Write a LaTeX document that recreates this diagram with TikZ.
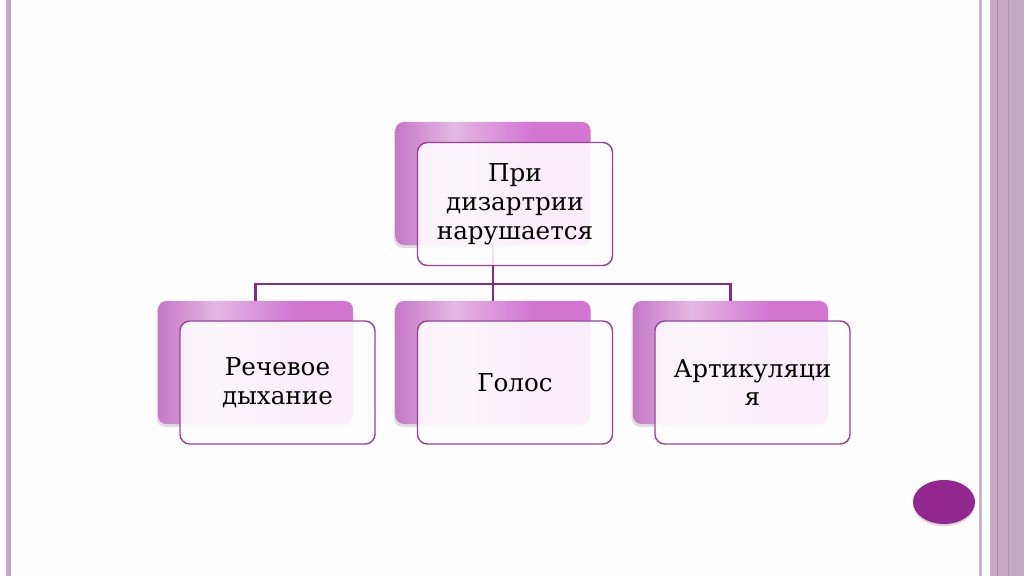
\documentclass[tikz,border=0pt]{standalone}
\usepackage{fontspec}
\setmainfont{DejaVu Serif}
\usepackage{xcolor}
\usepackage{tikz}
\usetikzlibrary{shapes,positioning,shadows}
\definecolor{edgepurple}{HTML}{852C85}
\definecolor{boxline}{HTML}{9C3F9B}
\definecolor{pinkA}{HTML}{C678C6}
\definecolor{pinkB}{HTML}{E3B8E3}
\definecolor{pinkC}{HTML}{D276D2}
\definecolor{bandcol}{HTML}{C4A8C4}
\definecolor{dotcol}{HTML}{92278F}
\pgfdeclarehorizontalshading{backshade}{100bp}{color(0bp)=(pinkA); color(25bp)=(pinkA); color(40bp)=(pinkB); color(60bp)=(pinkC); color(100bp)=(pinkC)}
\tikzset{backbox/.style={rectangle,rounded corners=6pt,minimum width=4.875cm,minimum height=3.075cm,shading=backshade,drop shadow={shadow xshift=-1pt,shadow yshift=-2pt,opacity=0.25}}}
\tikzset{frontbox/.style={rectangle,rounded corners=7pt,draw=boxline,line width=1pt,fill=white,fill opacity=0.88,text opacity=1,minimum width=4.875cm,minimum height=3.075cm,align=center,font=\fontsize{17.5}{20.5}\selectfont}}
\tikzset{conn/.style={draw=edgepurple,line width=1.5pt}}

\begin{document}
\begin{tikzpicture}[x=0.025cm,y=-0.025cm]
    \fill[white!99.5!black] (0,0) rectangle (1024,576);
    \useasboundingbox (0,0) rectangle (1024,576);
    \fill[bandcol] (6,0) rectangle (11,576);
    \fill[bandcol!85] (979,0) rectangle (982,576);
    \fill[bandcol] (990,0) rectangle (1024,576);
    \fill[edgepurple!60] (997,0) rectangle (998,576);
    \fill[bandcol!80!edgepurple] (1008,0) rectangle (1009,576);

    \node[backbox] (topb) at (493,183.5) {};
    \node[backbox] (leftb) at (255.5,362.5) {};
    \node[backbox] (midb) at (493,362.5) {};
    \node[backbox] (rightb) at (730.5,362.5) {};

    \coordinate (bus) at (493,284);
    \draw[conn] (topb.south) -- (bus);
    \draw[conn] (bus) -| (leftb.north);
    \draw[conn] (bus) -- (midb.north);
    \draw[conn] (bus) -| (rightb.north);

    \node[frontbox] (topf) at (515,204) {При\\дизартрии\\нарушается};
    \node[frontbox] (leftf) at (277.5,382.5) {Речевое\\дыхание};
    \node[frontbox] (midf) at (515,382.5) {Голос};
    \node[frontbox] (rightf) at (752.5,382.5) {Артикуляци\\я};

    \node[ellipse,fill=dotcol,minimum width=1.55cm,minimum height=1.1cm,drop shadow={shadow xshift=0pt,shadow yshift=-1.5pt,opacity=0.3}] (dot) at (944,502) {};
\end{tikzpicture}
\end{document}
